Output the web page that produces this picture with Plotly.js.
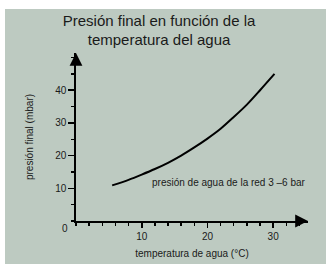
<!DOCTYPE html>
<html>
<head>
<meta charset="utf-8">
<script src="https://cdn.plot.ly/plotly-3.0.1.min.js"></script>
<style>
html,body{margin:0;padding:0;background:#ffffff;width:326px;height:264px;overflow:hidden;}
#plot{position:absolute;left:5px;top:9px;width:321px;height:255px;}
</style>
</head>
<body>
<div id="plot"></div>
<script>
// Data
const temperature = [5.5, 8, 10, 12, 14, 16, 18, 20, 22, 24, 26, 28, 30.2];   // °C
const finalPressure = [10.9, 12.6, 14.2, 15.9, 17.8, 20.0, 22.5, 25.2, 28.2, 31.8, 35.6, 40.0, 45.0]; // mbar
const xTickVals = [10, 20, 30];
const yTickVals = [10, 20, 30, 40];
const titleText = "Presión final en función de la<br>temperatura del agua";
const xTitle = "temperatura de agua (°C)";
const yTitle = "presión final (mbar)";
const curveLabel = "presión de agua de la red 3 –6 bar";

const FONT = "Liberation Sans, Arial, Helvetica, sans-serif";
const BG = "#bdcac1";
const INK = "#1a1a1a";
const xMax = 35.3, yMax = 51.4;

const trace = {
  x: temperature, y: finalPressure, type: "scatter", mode: "lines",
  line: {color: "#000000", width: 2, shape: "spline", smoothing: 0.8},
  hoverinfo: "skip", showlegend: false
};

const layout = {
  width: 321, height: 255,
  margin: {l: 71, r: 18, t: 44, b: 43, pad: 0},
  paper_bgcolor: BG, plot_bgcolor: BG,
  font: {family: FONT, color: INK, size: 10},
  title: {text: titleText, font: {family: FONT, size: 15, color: INK},
          x: 0.48, xref: "container", xanchor: "center",
          y: 0.935, yref: "container", yanchor: "top"},
  xaxis: {
    range: [0, xMax], showgrid: false, zeroline: false,
    showline: true, linecolor: "#000", linewidth: 1.6,
    tickmode: "array", tickvals: xTickVals, ticks: "outside", ticklen: 5,
    tickwidth: 1.6, tickcolor: "#000", tickfont: {size: 10, color: INK},
    minor: {dtick: 2, tick0: 0, ticks: "outside", ticklen: 3, tickwidth: 1.4, tickcolor: "#000", showgrid: false},
    title: {text: xTitle, font: {size: 10, color: INK}, standoff: 9},
    automargin: false,
    fixedrange: true
  },
  yaxis: {
    range: [0, yMax], showgrid: false, zeroline: false,
    showline: true, linecolor: "#000", linewidth: 1.6,
    tickmode: "array", tickvals: yTickVals, ticks: "outside", ticklen: 6,
    tickwidth: 1.6, tickcolor: "#000", tickfont: {size: 10, color: INK},
    minor: {dtick: 5, tick0: 0, ticks: "outside", ticklen: 3, tickwidth: 1.4, tickcolor: "#000", showgrid: false},
    title: {text: yTitle, font: {size: 10, color: INK}, standoff: 20},
    automargin: false,
    fixedrange: true
  },
  annotations: [
    {x: xMax, y: 0, xref: "x", yref: "y", ax: -12, ay: 0, text: "", showarrow: true,
     arrowhead: 2, arrowsize: 1.6, arrowwidth: 1.6, arrowcolor: "#000", standoff: 0},
    {x: 0, y: yMax, xref: "x", yref: "y", ax: 0, ay: 12, text: "", showarrow: true,
     arrowhead: 2, arrowsize: 1.6, arrowwidth: 1.6, arrowcolor: "#000", standoff: 0},
    {x: 0, y: 0, xref: "x", yref: "y", text: "0", showarrow: false,
     xanchor: "right", yanchor: "top", xshift: -6, yshift: 0, font: {size: 10, color: INK}},
    {x: 11.3, y: 11.8, xref: "x", yref: "y", text: curveLabel, showarrow: false,
     xanchor: "left", yanchor: "middle", font: {size: 10, color: INK}}
  ]
};

Plotly.newPlot("plot", [trace], layout, {staticPlot: true, displayModeBar: false});
</script>
</body>
</html>
